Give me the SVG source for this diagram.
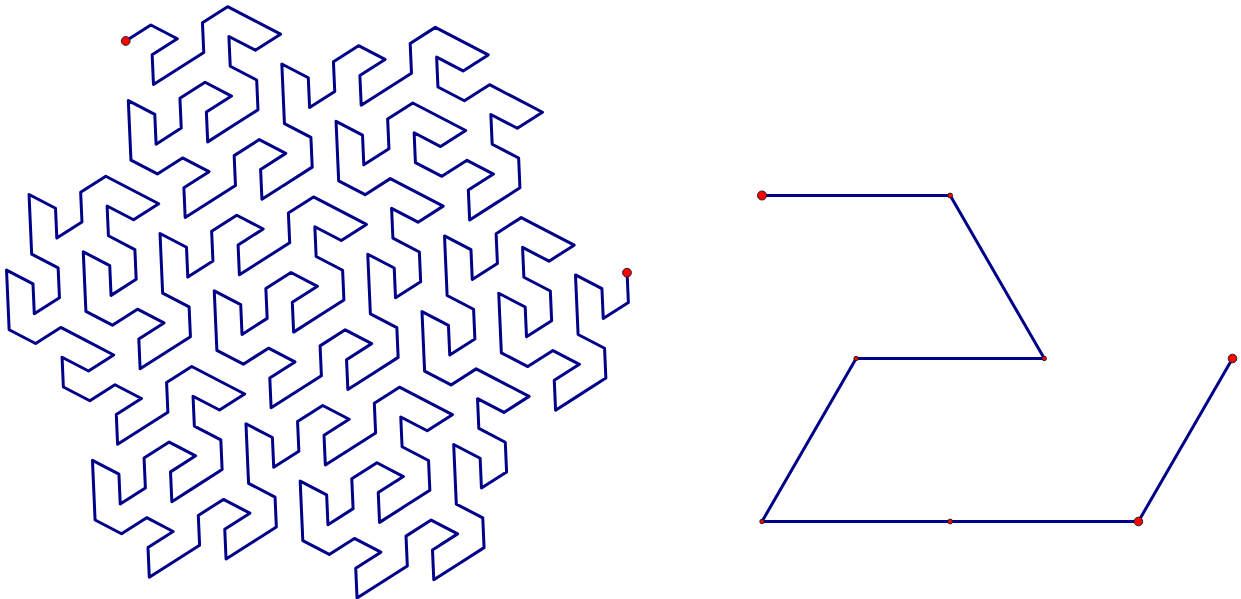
<svg xmlns="http://www.w3.org/2000/svg" width="1241" height="599" viewBox="0 0 1241 599">
<style>
.curve{fill:none;stroke:#000088;stroke-width:3;stroke-linejoin:round;stroke-linecap:round;vector-effect:non-scaling-stroke}
.pt{fill:#ff0000;stroke:#222;stroke-width:1}
</style>
<rect width="1241" height="599" fill="#ffffff"/>
<g id="gosper-order3">
<path class="curve" transform="translate(125.7 41) rotate(-32.52) scale(14.911 25.827)" d="M0 0 l
2 0 1 1 -2 0 -1 1 2 0 2 0 1 -1
2 0 1 1 1 1 -2 0 -1 -1 -1 1 1 1
-1 1 -2 0 -2 0 1 -1 2 0 -1 -1 -2 0
-1 1 -2 0 1 -1 -1 -1 -1 1 -1 1 1 1
2 0 1 1 -2 0 -1 1 2 0 2 0 1 -1
2 0 1 1 -2 0 -1 1 2 0 2 0 1 -1
-1 -1 1 -1 1 -1 1 1 -1 1 2 0 1 -1

2 0 1 1 -2 0 -1 1 2 0 2 0 1 -1
2 0 1 1 1 1 -2 0 -1 -1 -1 1 1 1
2 0 1 1 1 1 -2 0 -1 -1 -1 1 1 1
-1 1 -2 0 -2 0 1 -1 2 0 -1 -1 -2 0
-1 -1 1 -1 1 1 2 0 -1 -1 -1 -1 -2 0
-1 1 -2 0 1 -1 -1 -1 -1 1 -1 1 1 1
2 0 1 1 1 1 -2 0 -1 -1 -1 1 1 1

-1 1 -2 0 1 -1 -1 -1 -1 1 -1 1 1 1
-1 1 -2 0 -2 0 1 -1 2 0 -1 -1 -2 0
-1 1 -2 0 -2 0 1 -1 2 0 -1 -1 -2 0
-1 -1 1 -1 1 -1 1 1 -1 1 2 0 1 -1
2 0 1 1 -2 0 -1 1 2 0 2 0 1 -1
-1 -1 1 -1 1 1 2 0 -1 -1 -1 -1 -2 0
-1 1 -2 0 -2 0 1 -1 2 0 -1 -1 -2 0

-1 1 -2 0 1 -1 -1 -1 -1 1 -1 1 1 1
-1 1 -2 0 -2 0 1 -1 2 0 -1 -1 -2 0
-1 -1 1 -1 1 -1 1 1 -1 1 2 0 1 -1
-1 -1 1 -1 1 1 2 0 -1 -1 -1 -1 -2 0
-1 1 -2 0 1 -1 -1 -1 -1 1 -1 1 1 1
-1 1 -2 0 1 -1 -1 -1 -1 1 -1 1 1 1
2 0 1 1 1 1 -2 0 -1 -1 -1 1 1 1

2 0 1 1 -2 0 -1 1 2 0 2 0 1 -1
2 0 1 1 1 1 -2 0 -1 -1 -1 1 1 1
-1 1 -2 0 -2 0 1 -1 2 0 -1 -1 -2 0
-1 1 -2 0 1 -1 -1 -1 -1 1 -1 1 1 1
2 0 1 1 -2 0 -1 1 2 0 2 0 1 -1
2 0 1 1 -2 0 -1 1 2 0 2 0 1 -1
-1 -1 1 -1 1 -1 1 1 -1 1 2 0 1 -1

2 0 1 1 -2 0 -1 1 2 0 2 0 1 -1
2 0 1 1 1 1 -2 0 -1 -1 -1 1 1 1
-1 1 -2 0 -2 0 1 -1 2 0 -1 -1 -2 0
-1 1 -2 0 1 -1 -1 -1 -1 1 -1 1 1 1
2 0 1 1 -2 0 -1 1 2 0 2 0 1 -1
2 0 1 1 -2 0 -1 1 2 0 2 0 1 -1
-1 -1 1 -1 1 -1 1 1 -1 1 2 0 1 -1

-1 -1 1 -1 1 1 2 0 -1 -1 -1 -1 -2 0
-1 -1 1 -1 1 -1 1 1 -1 1 2 0 1 -1
-1 -1 1 -1 1 -1 1 1 -1 1 2 0 1 -1
2 0 1 1 1 1 -2 0 -1 -1 -1 1 1 1
-1 1 -2 0 1 -1 -1 -1 -1 1 -1 1 1 1
2 0 1 1 -2 0 -1 1 2 0 2 0 1 -1
-1 -1 1 -1 1 -1 1 1 -1 1 2 0 1 -1"/>
<circle class="pt" cx="125.7" cy="41" r="4.4"/>
<circle class="pt" cx="627" cy="272.7" r="4.4"/>
</g>
<g id="gosper-order1">
<path class="curve" d="M762 195.5 L950.2 195.5 L1044.3 358.5 L856.1 358.5 L762 521.5 L950.2 521.5 L1138.4 521.5 L1232.5 358.5"/>
<circle class="pt" cx="762" cy="195.5" r="4.5"/>
<circle class="pt" cx="950.2" cy="195.5" r="2.4"/>
<circle class="pt" cx="1044.3" cy="358.5" r="2.2"/>
<circle class="pt" cx="856.1" cy="358.5" r="2.2"/>
<circle class="pt" cx="762" cy="521.5" r="2.2"/>
<circle class="pt" cx="950.2" cy="521.5" r="2.4"/>
<circle class="pt" cx="1138.4" cy="521.5" r="4.3"/>
<circle class="pt" cx="1232.5" cy="358.5" r="4.3"/>
</g>
</svg>
